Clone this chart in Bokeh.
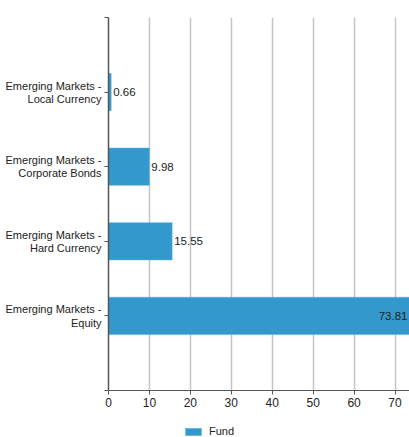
from bokeh.plotting import figure
from bokeh.layouts import column
from bokeh.models import (Range1d, FixedTicker, ColumnDataSource, Legend, LegendItem)
from bokeh.core.properties import value
from bokeh.embed import file_html
from bokeh.resources import INLINE

categories = [
    "Emerging Markets -\nLocal Currency",
    "Emerging Markets -\nCorporate Bonds",
    "Emerging Markets -\nHard Currency",
    "Emerging Markets -\nEquity",
]
fund_values = [0.66, 9.98, 15.55, 73.81]
x_ticks = [0, 10, 20, 30, 40, 50, 60, 70]
series_name = "Fund"

X_END = 73.54
BAR_COLOR = "#3399cc"
FONT = "Liberation Sans"
TEXT_COLOR = "#222222"
AXIS_COLOR = "#555555"

positions = list(range(1, len(categories) + 1))

p = figure(width=409, height=413, output_backend="svg", toolbar_location=None,
           x_range=Range1d(0, X_END), y_range=Range1d(len(categories) + 1, 0),
           min_border_left=108, min_border_right=0, min_border_top=17,
           min_border_bottom=23)
p.outline_line_color = None
p.background_fill_color = "white"
p.border_fill_color = "white"

src = ColumnDataSource(dict(y=positions, v=fund_values))
bars = p.hbar(y="y", left=0, right="v", height=0.5, source=src,
              fill_color=BAR_COLOR, line_color="#5aaedb", line_width=0.5)

# value labels
lx, lalign, loff = [], [], []
for v in fund_values:
    if v > X_END * 0.9:
        lx.append(min(v, X_END)); lalign.append("right"); loff.append(-2)
    else:
        lx.append(v); lalign.append("left"); loff.append(2)
lsrc = ColumnDataSource(dict(x=lx, y=positions, t=[f"{v:.2f}" for v in fund_values],
                             a=lalign, o=loff))
p.text(x="x", y="y", text="t", text_align="a", x_offset="o", source=lsrc,
       text_baseline="middle", text_font=value(FONT), text_font_size="11.5px",
       text_color=TEXT_COLOR)

# axes
p.xaxis.ticker = FixedTicker(ticks=x_ticks)
p.xaxis.major_label_text_font = FONT
p.xaxis.major_label_text_font_size = "12px"
p.xaxis.major_label_text_color = TEXT_COLOR
p.xaxis.axis_line_color = AXIS_COLOR
p.xaxis.major_tick_line_color = AXIS_COLOR
p.xaxis.major_tick_out = 4
p.xaxis.major_tick_in = 0
p.xaxis.minor_tick_line_color = None
p.xaxis.major_label_standoff = 3

p.yaxis.ticker = FixedTicker(ticks=[0] + positions + [len(categories) + 1])
overrides = {0: "", len(categories) + 1: ""}
for pos, c in zip(positions, categories):
    overrides[pos] = c
p.yaxis.major_label_overrides = overrides
p.yaxis.major_label_text_font = FONT
p.yaxis.major_label_text_font_size = "11px"
p.yaxis.major_label_text_color = TEXT_COLOR
p.yaxis.major_label_text_line_height = 1.1
p.yaxis.axis_line_color = AXIS_COLOR
p.yaxis.axis_line_width = 1.5
p.yaxis.major_tick_line_color = AXIS_COLOR
p.yaxis.major_tick_out = 4
p.yaxis.major_tick_in = 0
p.yaxis.minor_tick_line_color = None
p.yaxis.major_label_standoff = 3

p.xgrid.grid_line_color = "#c4c4c4"
p.xgrid.grid_line_width = 1.5
p.ygrid.grid_line_color = None

# legend strip below the chart (its frame is aligned with the chart's frame)
lp = figure(width=409, height=24, output_backend="svg", toolbar_location=None,
            x_range=Range1d(0, 1), y_range=Range1d(0, 1),
            x_axis_location=None, y_axis_location=None,
            min_border_left=0, min_border_right=0, min_border_top=0,
            min_border_bottom=0)
lp.outline_line_color = None
lp.xgrid.grid_line_color = None
lp.ygrid.grid_line_color = None
swatch = lp.hbar(y=[-1], left=[0], right=[0], height=0,
                 fill_color=BAR_COLOR, line_color="#5aaedb", line_width=0.5)
legend = Legend(items=[LegendItem(label=series_name, renderers=[swatch])],
                location=(75, 0), orientation="horizontal",
                padding=0, margin=0, border_line_color=None,
                background_fill_alpha=0, glyph_width=20, glyph_height=9,
                label_height=9, label_standoff=6,
                label_text_font=FONT, label_text_font_size="11px",
                label_text_color=TEXT_COLOR)
lp.add_layout(legend, "center")

layout = column(p, lp, spacing=0)
open("out.html", "w").write(file_html(layout, INLINE))
